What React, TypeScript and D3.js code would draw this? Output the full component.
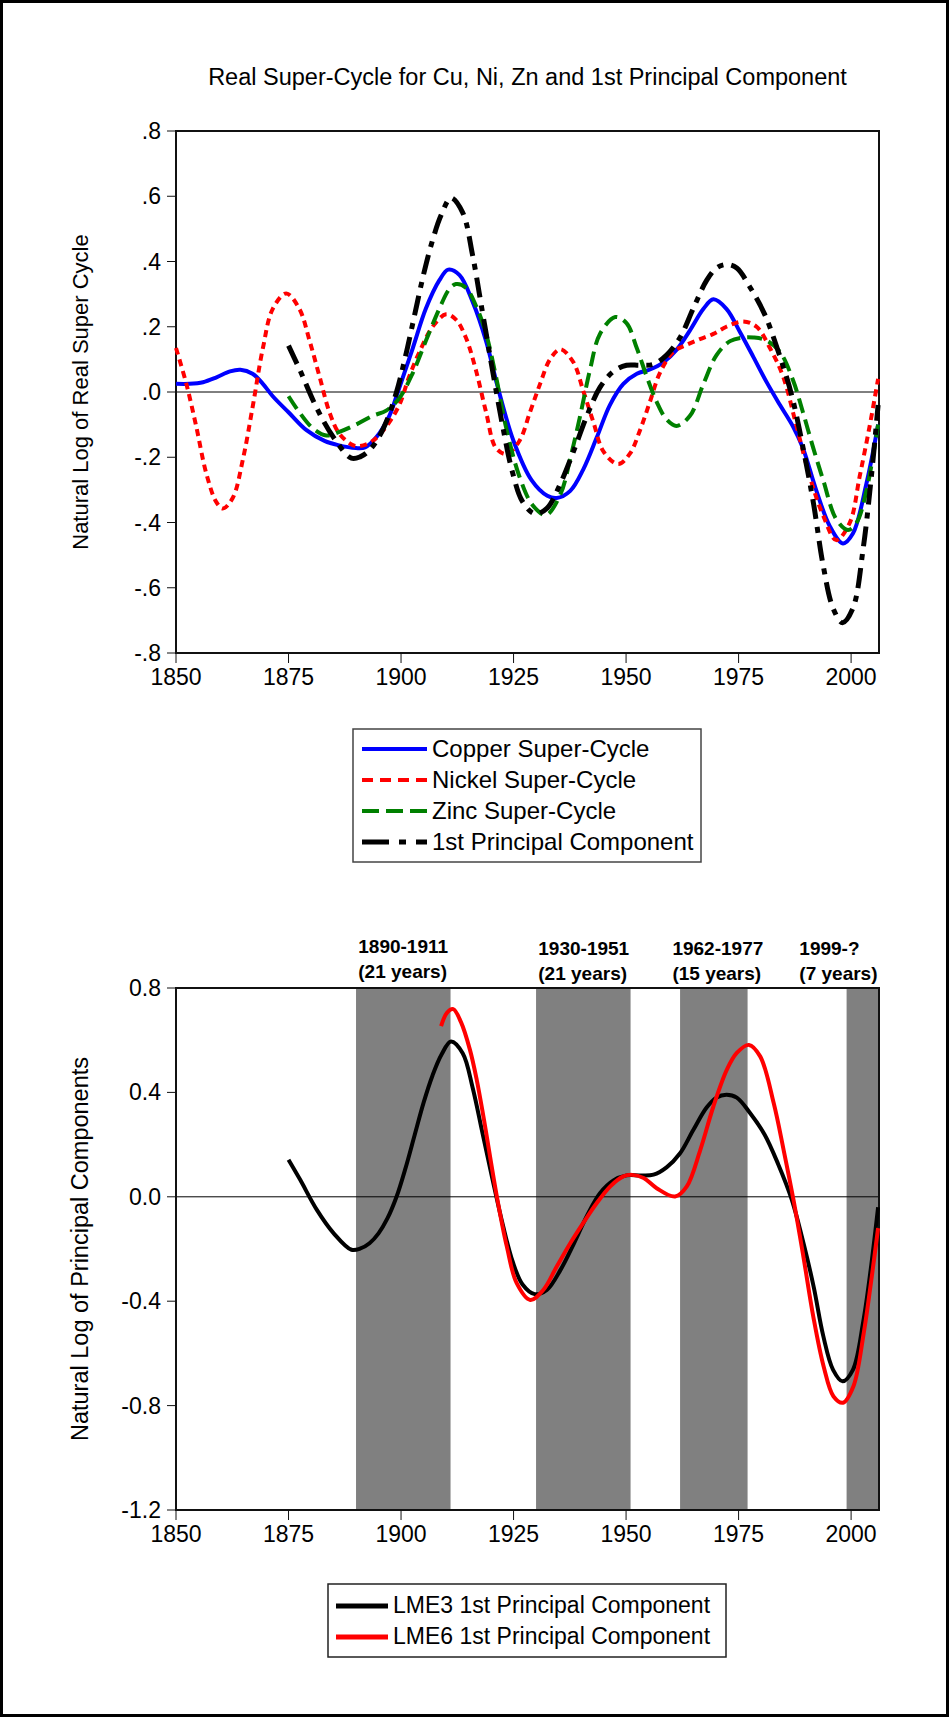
import React from "react";
import * as d3 from "d3";

// ---- data: [year, value] ----
const copper: [number, number][] = [
  [1850, 0.025], [1853, 0.025], [1856, 0.03], [1859, 0.045], [1862, 0.063], [1864.3, 0.068],
  [1867, 0.056], [1869.3, 0.025], [1871.5, -0.013], [1875, -0.062], [1879, -0.117], [1883, -0.15],
  [1886, -0.163], [1890, -0.172], [1892, -0.17], [1894.5, -0.139], [1897.4, -0.073], [1899.3, 0.0],
  [1902.6, 0.134], [1905.5, 0.255], [1908.5, 0.342], [1910.5, 0.375], [1913, 0.358], [1915.9, 0.277],
  [1918.9, 0.156], [1921.4, 0.02], [1925, -0.15], [1929, -0.27], [1932.5, -0.318], [1934.6, -0.325],
  [1937.6, -0.303], [1940.5, -0.237], [1943.5, -0.139], [1946.4, -0.04], [1949.4, 0.025], [1952.4, 0.056],
  [1955.3, 0.069], [1958.3, 0.091], [1961.2, 0.129], [1964.2, 0.189], [1967.2, 0.255], [1969.4, 0.284],
  [1972.3, 0.255], [1975.3, 0.184], [1978.3, 0.107], [1981.2, 0.031], [1984.2, -0.04], [1987.1, -0.106],
  [1989.3, -0.172], [1992.3, -0.303], [1995.3, -0.412], [1998.2, -0.464], [2000.4, -0.434], [2003.4, -0.281],
  [2006, -0.1],
];

const nickel: [number, number][] = [
  [1850, 0.135], [1852.3, 0.025], [1854.5, -0.106], [1856.7, -0.248], [1858.9, -0.336], [1860.4, -0.357],
  [1862.6, -0.325], [1864.9, -0.204], [1867.1, -0.04], [1869.3, 0.134], [1871.5, 0.255], [1874.5, 0.302],
  [1877.4, 0.255], [1879.7, 0.156], [1881.9, 0.047], [1884.1, -0.062], [1886.3, -0.128], [1889.3, -0.163],
  [1890.8, -0.166], [1893.7, -0.15], [1896.7, -0.106], [1899.6, -0.04], [1901.8, 0.047], [1904.1, 0.123],
  [1907, 0.2], [1910, 0.238], [1912.2, 0.222], [1914.4, 0.167], [1916.6, 0.069], [1918.9, -0.062],
  [1921.1, -0.172], [1923.5, -0.19], [1926.3, -0.15], [1928.7, -0.06], [1930.9, 0.025], [1933.1, 0.1],
  [1935.4, 0.131], [1938.3, 0.091], [1940.5, 0.003], [1942.8, -0.095], [1945, -0.183], [1948.3, -0.221],
  [1950.9, -0.188], [1953.1, -0.117], [1955.3, -0.03], [1957.5, 0.058], [1960.5, 0.123], [1963.5, 0.145],
  [1966.4, 0.162], [1969.4, 0.178], [1972.3, 0.2], [1976, 0.216], [1979, 0.2], [1982, 0.134],
  [1984.9, 0.047], [1987.9, -0.106], [1990.8, -0.259], [1993.8, -0.379], [1996.7, -0.454], [1999.7, -0.401],
  [2001.9, -0.259], [2004.1, -0.106], [2006, 0.04],
];

const zinc: [number, number][] = [
  [1875, -0.013], [1877.4, -0.062], [1880.4, -0.111], [1883.4, -0.133], [1886.3, -0.122], [1890, -0.1],
  [1893.7, -0.073], [1896.7, -0.057], [1899.6, -0.019], [1902.6, 0.058], [1905.5, 0.156], [1908.5, 0.255],
  [1910.7, 0.315], [1912.2, 0.331], [1914.4, 0.32], [1916.6, 0.266], [1918.9, 0.178], [1921.1, 0.047],
  [1923.3, -0.106], [1926.3, -0.259], [1929.2, -0.346], [1932.2, -0.377], [1935.4, -0.314], [1937.6, -0.204],
  [1939.8, -0.073], [1942, 0.069], [1944.2, 0.178], [1947.6, 0.23], [1950.1, 0.211], [1952.4, 0.134],
  [1954.6, 0.047], [1956.8, -0.03], [1959, -0.084], [1961.2, -0.104], [1964.2, -0.073], [1967.2, 0.025],
  [1970.1, 0.113], [1973.1, 0.156], [1976, 0.167], [1978.3, 0.167], [1981.2, 0.158], [1984.2, 0.123],
  [1987.1, 0.036], [1989.3, -0.062], [1991.6, -0.172], [1993.8, -0.27], [1996.7, -0.39], [1999.3, -0.423],
  [2001.2, -0.401], [2003.4, -0.303], [2006, -0.1],
];

// 1st principal component (same series as LME3 in the lower panel)
const pc1: [number, number][] = [
  [1875, 0.142], [1877.6, 0.065], [1881.3, -0.05], [1885, -0.139], [1889, -0.203], [1891, -0.198],
  [1893, -0.178], [1895, -0.14], [1897, -0.082], [1899, 0.0], [1901, 0.11], [1903, 0.235],
  [1905, 0.36], [1907, 0.465], [1909, 0.545], [1911.1, 0.595], [1913.7, 0.55], [1915.9, 0.419],
  [1918.1, 0.244], [1920.3, 0.069], [1922.6, -0.106], [1924.8, -0.248], [1927, -0.336], [1929.7, -0.373],
  [1932.4, -0.357], [1935.4, -0.281], [1938.3, -0.183], [1941.3, -0.073], [1944.2, 0.014], [1947.2, 0.063],
  [1950.1, 0.082], [1953.1, 0.082], [1956.1, 0.085], [1959, 0.113], [1962, 0.167], [1964.9, 0.255],
  [1967.9, 0.342], [1970.1, 0.38], [1972.3, 0.391], [1974.6, 0.38], [1977.5, 0.322], [1980.8, 0.238],
  [1983.8, 0.125], [1986.8, -0.01], [1989.5, -0.183], [1991.7, -0.346], [1993.8, -0.532], [1996, -0.663],
  [1998.1, -0.707], [2000.4, -0.663], [2002.7, -0.478], [2004.5, -0.259], [2006, -0.04],
];

const lme6: [number, number][] = [
  [1908.9, 0.654], [1910.2, 0.705], [1911.6, 0.719], [1913.3, 0.67], [1915.3, 0.564], [1916.8, 0.45],
  [1918.3, 0.308], [1921.3, 0.0], [1923.5, -0.19], [1925.7, -0.331], [1928.7, -0.395], [1931.6, -0.357],
  [1934.6, -0.267], [1937.6, -0.178], [1940.5, -0.1], [1943.5, -0.024], [1946.5, 0.04], [1949.4, 0.078],
  [1951.3, 0.084], [1953.9, 0.072], [1956.8, 0.033], [1960.9, 0.001], [1963.5, 0.04], [1966.5, 0.18],
  [1969.4, 0.346], [1972.4, 0.487], [1974.6, 0.551], [1977.3, 0.582], [1979.8, 0.538], [1982.8, 0.359],
  [1985, 0.18], [1987.2, -0.012], [1989.4, -0.229], [1991.6, -0.459], [1993.9, -0.65], [1996.1, -0.765],
  [1998.2, -0.789], [2000.5, -0.727], [2002.8, -0.523], [2004.6, -0.305], [2006, -0.12],
];

const cycleBands: [number, number][] = [[1890, 1911], [1930, 1951], [1962, 1977], [1999, 2006.2]];
const bandLabels: { year: number; top: string; bottom: string }[] = [
  { year: 1890.5, top: "1890-1911", bottom: "(21 years)" },
  { year: 1930.5, top: "1930-1951", bottom: "(21 years)" },
  { year: 1960.3, top: "1962-1977", bottom: "(15 years)" },
  { year: 1988.5, top: "1999-?", bottom: "(7 years)" },
];

const xTicks = [1850, 1875, 1900, 1925, 1950, 1975, 2000];
const yTicksTop = [0.8, 0.6, 0.4, 0.2, 0, -0.2, -0.4, -0.6, -0.8];
const yTicksBottom = [0.8, 0.4, 0, -0.4, -0.8, -1.2];

const topLegend = ["Copper Super-Cycle", "Nickel Super-Cycle", "Zinc Super-Cycle", "1st Principal Component"];
const bottomLegend = ["LME3 1st Principal Component", "LME6 1st Principal Component"];

const FONT = "'Liberation Sans', Arial, Helvetica, sans-serif";

const W = 950;
const H = 1717;
const plotLeft = 176;
const plotRight = 879;

const x = d3.scaleLinear().domain([1850, 2006.2]).range([plotLeft, plotRight]);
const yTop = d3.scaleLinear().domain([-0.8, 0.8]).range([653, 131]);
const yBot = d3.scaleLinear().domain([-1.2, 0.8]).range([1510, 988]);

const fmtTop = (v: number) => d3.format(".1f")(v).replace("\u2212", "-").replace("0.", ".");
const fmtBot = (v: number) => d3.format(".1f")(v).replace("\u2212", "-");

function lineFor(y: d3.ScaleLinear<number, number>) {
  return d3
    .line<[number, number]>()
    .x((d) => x(d[0]))
    .y((d) => y(d[1]))
    .curve(d3.curveCatmullRom.alpha(0.5));
}

function Axes({ y, ticks, fmt }: { y: d3.ScaleLinear<number, number>; ticks: number[]; fmt: (v: number) => string }) {
  const [y0, y1] = y.range();
  return (
    <g fontFamily={FONT} fontSize={23} fill="#000">
      <line x1={plotLeft} x2={plotRight} y1={y(0)} y2={y(0)} stroke="#000" strokeWidth={1} />
      <rect x={plotLeft} y={y1} width={plotRight - plotLeft} height={y0 - y1} fill="none" stroke="#111" strokeWidth={2} />
      {ticks.map((t) => (
        <g key={t}>
          <line x1={plotLeft - 9} x2={plotLeft} y1={y(t)} y2={y(t)} stroke="#111" strokeWidth={1} />
          <text x={plotLeft - 15} y={y(t)} dy="0.35em" textAnchor="end">
            {fmt(t)}
          </text>
        </g>
      ))}
      {xTicks.map((t) => (
        <g key={t}>
          <line x1={x(t)} x2={x(t)} y1={y0} y2={y0 + 10} stroke="#111" strokeWidth={1} />
          <text x={x(t)} y={y0 + 32} textAnchor="middle">
            {t}
          </text>
        </g>
      ))}
    </g>
  );
}

export default function App() {
  const lineTop = lineFor(yTop);
  const lineBot = lineFor(yBot);
  const [bb, bt] = yBot.range();

  const topSeries = [
    { data: copper, color: "#0000ff", width: 4, dash: undefined, legendDash: undefined },
    { data: nickel, color: "#ff0000", width: 4, dash: "7,5", legendDash: "11,7" },
    { data: zinc, color: "#008000", width: 4, dash: "15,7", legendDash: "17,7" },
    { data: pc1, color: "#000000", width: 5, dash: "20,8,6,8", legendDash: "27,10,7,10" },
  ];

  return (
    <svg width={W} height={H} style={{ position: "absolute", left: 0, top: 0, background: "#fff" }}>
      <rect x={1.5} y={1.5} width={W - 4} height={H - 3} fill="#fff" stroke="#000" strokeWidth={3} />

      {/* ---- upper panel ---- */}
      <text x={(plotLeft + plotRight) / 2} y={85} textAnchor="middle" fontFamily={FONT} fontSize={23.5}>
        Real Super-Cycle for Cu, Ni, Zn and 1st Principal Component
      </text>
      <text
        transform={`translate(80,${(yTop(0.8) + yTop(-0.8)) / 2}) rotate(-90)`}
        textAnchor="middle"
        dy="0.35em"
        fontFamily={FONT}
        fontSize={22}
      >
        Natural Log of Real Super Cycle
      </text>
      <Axes y={yTop} ticks={yTicksTop} fmt={fmtTop} />
      {topSeries.map((s, i) => (
        <path
          key={i}
          d={lineTop(s.data) || ""}
          fill="none"
          stroke={s.color}
          strokeWidth={s.width}
          strokeDasharray={s.dash}
        />
      ))}

      <g fontFamily={FONT} fontSize={24}>
        <rect x={353} y={729} width={348} height={133} fill="#fff" stroke="#444" strokeWidth={1.5} />
        {topLegend.map((name, i) => (
          <g key={name}>
            <line
              x1={362}
              x2={427}
              y1={749 + i * 31}
              y2={749 + i * 31}
              stroke={topSeries[i].color}
              strokeWidth={i === 3 ? 5 : 4}
              strokeDasharray={topSeries[i].legendDash}
            />
            <text x={432} y={757 + i * 31}>
              {name}
            </text>
          </g>
        ))}
      </g>

      {/* ---- lower panel ---- */}
      {cycleBands.map(([a, b]) => (
        <rect key={a} x={x(a)} y={bt} width={x(b) - x(a)} height={bb - bt} fill="#808080" />
      ))}
      <g fontFamily={FONT} fontSize={19} fontWeight="bold">
        {bandLabels.map((l, i) => (
          <g key={l.top}>
            <text x={x(l.year)} y={i === 0 ? 953 : 955}>
              {l.top}
            </text>
            <text x={x(l.year)} y={i === 0 ? 978 : 980}>
              {l.bottom}
            </text>
          </g>
        ))}
      </g>
      <text
        transform={`translate(80,${(bt + bb) / 2}) rotate(-90)`}
        textAnchor="middle"
        dy="0.35em"
        fontFamily={FONT}
        fontSize={23.5}
      >
        Natural Log of Principal Components
      </text>
      <Axes y={yBot} ticks={yTicksBottom} fmt={fmtBot} />
      <path d={lineBot(pc1) || ""} fill="none" stroke="#000" strokeWidth={4} />
      <path d={lineBot(lme6) || ""} fill="none" stroke="#ff0000" strokeWidth={4} />

      <g fontFamily={FONT} fontSize={23}>
        <rect x={328} y={1584} width={398} height={73} fill="#fff" stroke="#222" strokeWidth={1.5} />
        {bottomLegend.map((name, i) => (
          <g key={name}>
            <line x1={336} x2={388} y1={1606 + i * 31} y2={1606 + i * 31} stroke={i === 0 ? "#000" : "#ff0000"} strokeWidth={5} />
            <text x={393} y={1613 + i * 31}>
              {name}
            </text>
          </g>
        ))}
      </g>
    </svg>
  );
}
